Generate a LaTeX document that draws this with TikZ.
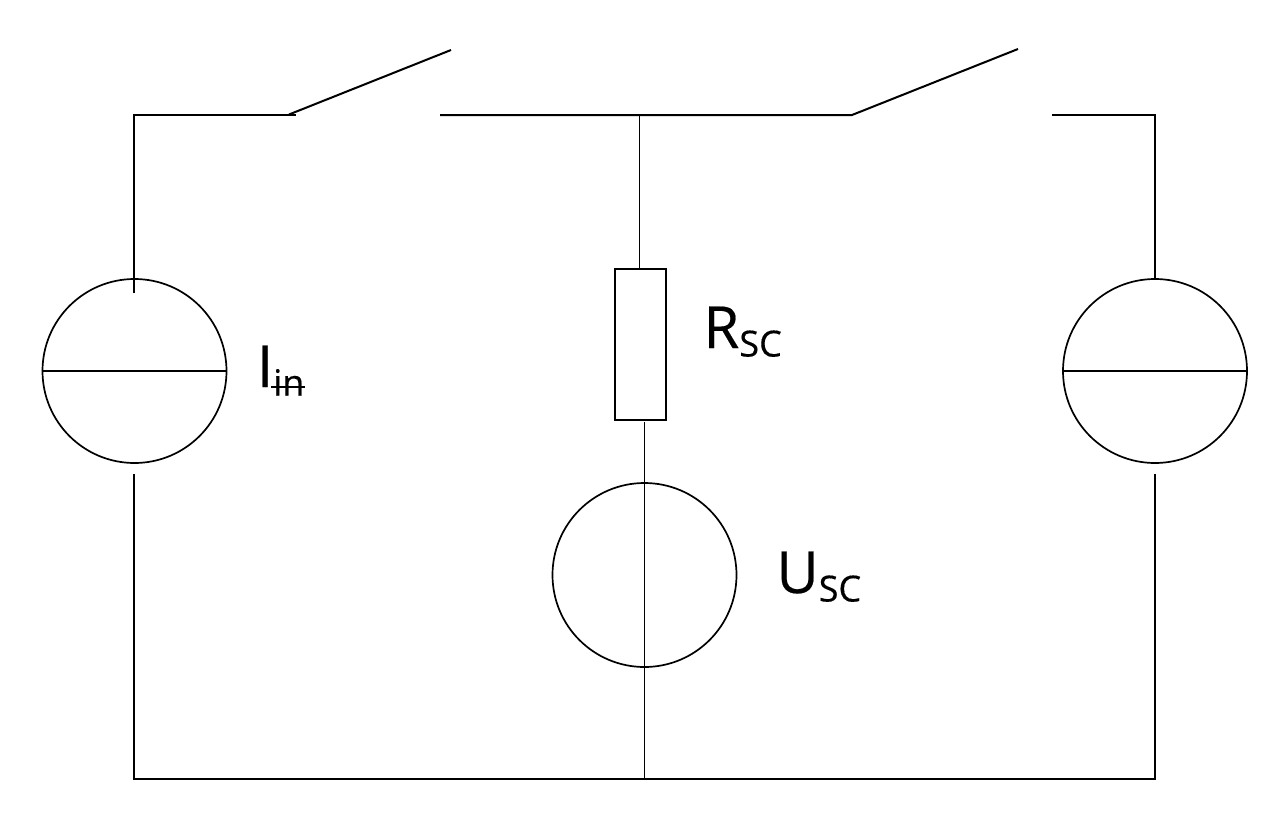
\documentclass[tikz,border=0pt]{standalone}
\usepackage{fontspec}
\setmainfont{Open Sans}[FakeStretch=1.0]
\newfontfamily\labfont{Open Sans}[FakeBold=0.35]
\newcommand{\bigtxt}{\labfont\fontsize{58}{62}\selectfont}
\newcommand{\subtxt}[1]{\raisebox{-8.5pt}{\fontsize{36}{40}\selectfont #1}}
\tikzset{
  wire/.style={line width=2pt,line cap=butt,line join=miter},
  thin wire/.style={line width=1.4pt},
  source/.style={circle,draw,line width=1.7pt,minimum size=184pt,inner sep=0pt},
  resistor/.style={rectangle,draw,line width=1.8pt,minimum width=51pt,minimum height=151pt,inner sep=0pt},
  lab/.style={anchor=base west,inner sep=0pt,outer sep=0pt}
}
\begin{document}
\begin{tikzpicture}[x=1pt,y=-1pt]
\useasboundingbox (0,0) rectangle (1283,825);
\fill[white] (0,0) rectangle (1283,825);
% sources and resistor
\node[source] (SL) at (134.5,371) {};
\node[source] (SR) at (1155,371) {};
\node[source] (SM) at (644.5,575) {};
\node[resistor] (R) at (640.5,344.5) {};
% free ends
\coordinate (TL) at (134,115);
\coordinate (SW1a) at (296,115);
\coordinate (SW1p) at (289,114.5);
\coordinate (SW1t) at (451,50);
\coordinate (SW1b) at (440,115);
\coordinate (J) at (639.5,115);
\coordinate (SW2a) at (852,115);
\coordinate (SW2t) at (1018,49);
\coordinate (SW2b) at (1052,115);
\coordinate (TR) at (1155,115);
\coordinate (BL) at (134,778.5);
\coordinate (BR) at (1155,778.5);
\coordinate (BM) at (644.5,778.5);
\coordinate (LA) at (134,293);
\coordinate (LB) at (134,474);
\coordinate (RB) at (1155,474);
\coordinate (MA) at (644.5,422);
\coordinate (RT) at (639.5,269);
% wires
\draw[wire] (LA) -- (TL) -- (SW1a);
\draw[wire] (SW1p) -- (SW1t);
\draw[wire] (SW1b) -- (SW2a) -- (SW2t);
\draw[wire] (SW2b) -- (TR) -- (SR.north);
\draw[thin wire] (J) -- (RT);
\draw[thin wire] (MA) -- (BM);
\draw[wire] (LB) -- (BL) -- (BR) -- (RB);
\draw[wire] (SL.west) -- (SL.east);
\draw[wire] (SR.west) -- (SR.east);
% labels
\node[lab] (Lin) at (257,387) {\bigtxt I\subtxt{in}};
\coordinate (St1) at (271,387);
\coordinate (St2) at (305,387);
\draw[thin wire] (St1) -- (St2);
\node[lab] (Lr) at (703.5,348) {\bigtxt R\subtxt{SC}};
\node[lab] (Lu) at (776.5,593) {\bigtxt U\subtxt{SC}};
\end{tikzpicture}
\end{document}
